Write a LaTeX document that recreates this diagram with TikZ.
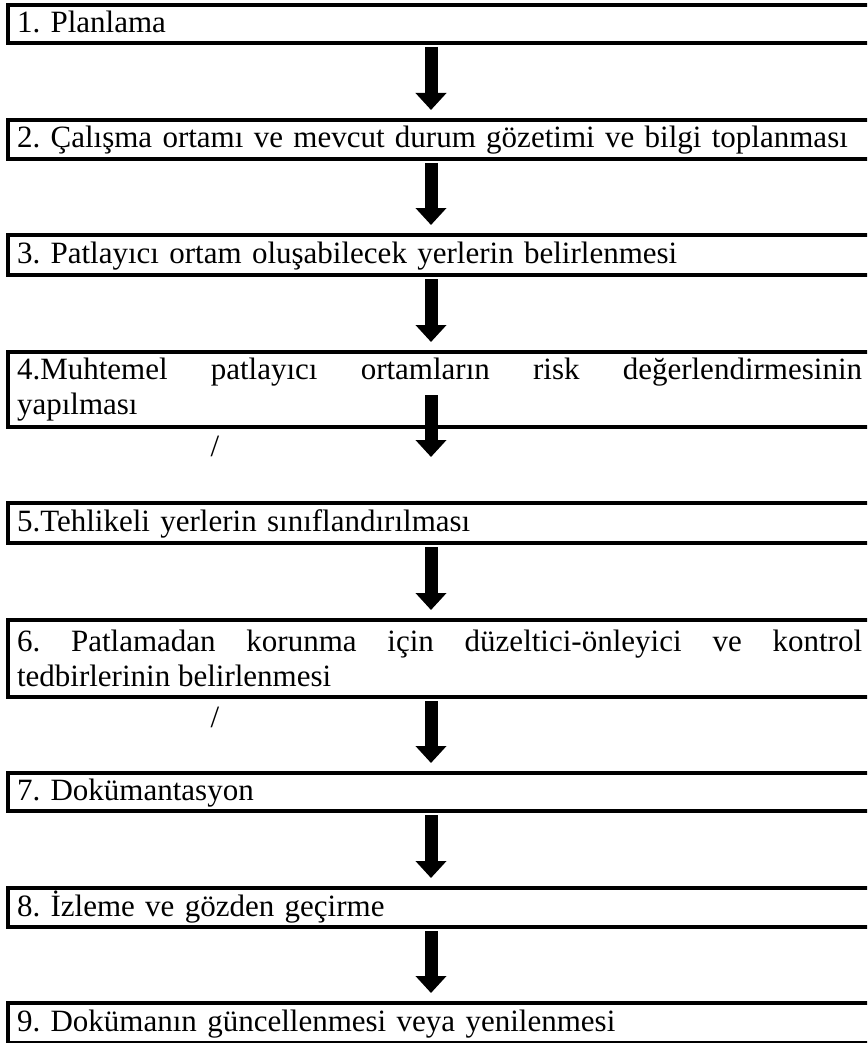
\documentclass[tikz,border=0pt]{standalone}
\usepackage{fontspec}
\setmainfont{Liberation Serif}
\usetikzlibrary{arrows.meta}
\tikzset{
	stepbox/.style={outer sep=0pt, anchor=north west,
		text width=845pt, inner xsep=9pt, inner ysep=0pt,
		font=\fontsize{31}{35}\selectfont\frenchspacing},
	stepone/.style={stepbox, align=left, text height=24pt, text depth=7pt},
	steptwo/.style={stepbox, align=justify},
	boxline/.style={line width=3.2pt},
	flowarrow/.style={line width=13pt, -{Triangle[width=30pt, length=17pt]}},
	slash/.style={font=\fontsize{31}{35}\selectfont, inner sep=0pt}
}
\begin{document}
\begin{tikzpicture}[x=1pt, y=-1pt]
		\useasboundingbox ( 0, 0 ) rectangle ( 867, 1043 );
		\clip ( 0, 0 ) rectangle ( 867, 1043 );

		% adımlar
		\node [stepone, minimum height=38pt] (b1) at ( 8, 5 ) {1. Planlama};
		\node [stepone, minimum height=39pt] (b2) at ( 8, 120 ) {2. Çalışma ortamı ve mevcut durum gözetimi ve bilgi toplanması};
		\node [stepone, minimum height=40pt] (b3) at ( 8, 235 ) {3. Patlayıcı ortam oluşabilecek yerlerin belirlenmesi};
		\node [steptwo, minimum height=75pt] (b4) at ( 8, 352 ) {4.Muhtemel patlayıcı ortamların risk değerlendirmesinin\linebreak yapılması};
		\node [stepone, minimum height=40pt] (b5) at ( 8, 503 ) {5.Tehlikeli yerlerin sınıflandırılması};
		\node [steptwo, minimum height=77pt] (b6) at ( 8, 620 ) {6. Patlamadan korunma için düzeltici-önleyici ve kontrol\linebreak tedbirlerinin belirlenmesi};
		\node [stepone, minimum height=38pt] (b7) at ( 8, 773 ) {7. Dokümantasyon};
		\node [stepone, minimum height=39pt] (b8) at ( 8, 888 ) {8. İzleme ve gözden geçirme};
		\node [stepone, minimum height=40pt] (b9) at ( 8, 1003 ) {9. Dokümanın güncellenmesi veya yenilenmesi};

		% kutu çizgileri (sağ kenar sayfanın dışında)
		\foreach \b in {b1, b2, b3, b4, b5, b6, b7, b8, b9}
			\draw [boxline] (\b.north west) rectangle ([xshift=20pt]\b.south east);

		% işaretler
		\node [slash] (s1) at ( 215, 446 ) {/};
		\node [slash] (s2) at ( 215, 717 ) {/};

		% oklar
		\draw [flowarrow] ([xshift=-8.5pt, yshift=-4pt]b1.south) -- ([xshift=-8.5pt, yshift=10pt]b2.north);
		\draw [flowarrow] ([xshift=-8.5pt, yshift=-4pt]b2.south) -- ([xshift=-8.5pt, yshift=10pt]b3.north);
		\draw [flowarrow] ([xshift=-8.5pt, yshift=-4pt]b3.south) -- ([xshift=-8.5pt, yshift=10pt]b4.north);
		\draw [flowarrow] ([xshift=-8.5pt, yshift=32pt]b4.south) -- ([xshift=-8.5pt, yshift=46pt]b5.north);
		\draw [flowarrow] ([xshift=-8.5pt, yshift=-4pt]b5.south) -- ([xshift=-8.5pt, yshift=10pt]b6.north);
		\draw [flowarrow] ([xshift=-8.5pt, yshift=-4pt]b6.south) -- ([xshift=-8.5pt, yshift=10pt]b7.north);
		\draw [flowarrow] ([xshift=-8.5pt, yshift=-4pt]b7.south) -- ([xshift=-8.5pt, yshift=10pt]b8.north);
		\draw [flowarrow] ([xshift=-8.5pt, yshift=-4pt]b8.south) -- ([xshift=-8.5pt, yshift=10pt]b9.north);
\end{tikzpicture}
\end{document}
